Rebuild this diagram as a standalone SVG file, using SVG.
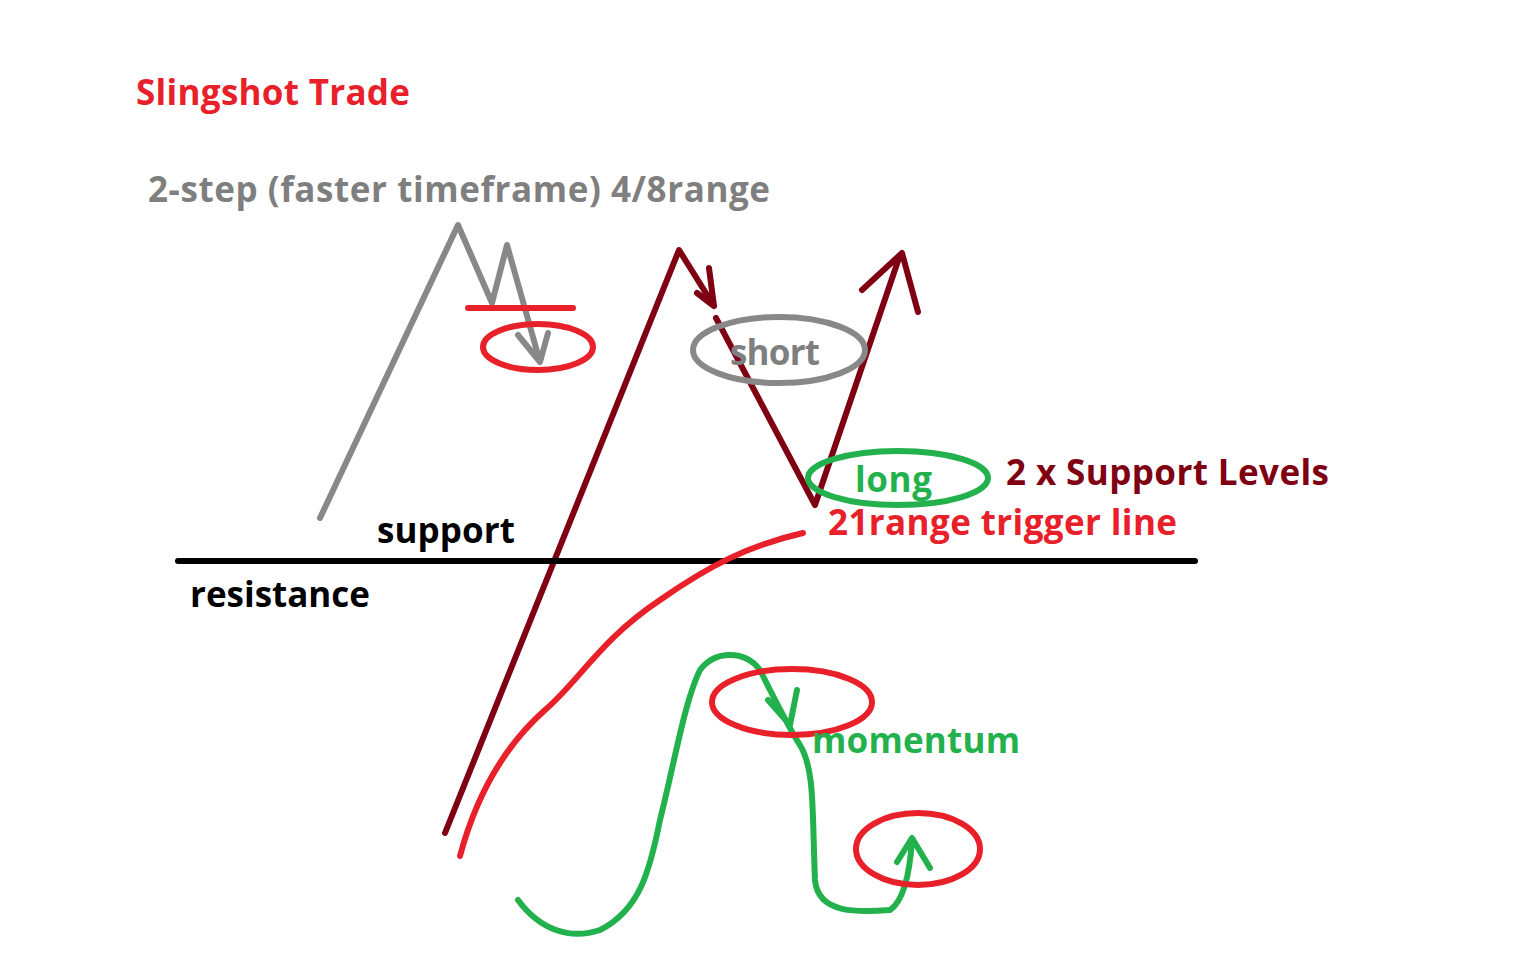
<svg xmlns="http://www.w3.org/2000/svg" width="1536" height="960" viewBox="0 0 1536 960">
<style>
text{font-family:"Open Sans",Lato,sans-serif;font-weight:bold;font-size:35px}
.s{fill:none;stroke-linecap:round;stroke-linejoin:round}
.g{stroke:#888;stroke-width:6}
.d{stroke:#7f0012;stroke-width:6}
.r{stroke:#e8202a;stroke-width:6}
.n{stroke:#22b14c;stroke-width:6}
</style>
<rect width="1536" height="960" fill="#fff"/>
<text x="136" y="105" fill="#e8202a" textLength="274">Slingshot Trade</text>
<text x="148" y="202" fill="#7f7f7f" textLength="622">2-step (faster timeframe) 4/8range</text>
<path class="s g" d="M320,518 L458,225 L492,303 L507,245 L540,362 M518,335 L540,362 L548,333"/>
<path class="s r" d="M468,308 L573,308"/>
<ellipse class="s r" cx="538" cy="347" rx="55" ry="23"/>
<path class="s d" d="M445,833 L679,250 L714,306 M697,293 L714,306 L709,268"/>
<path class="s d" d="M716,318 L815,505 L900,255 M862,290 L902,253 L918,312"/>
<ellipse class="s g" cx="779" cy="350" rx="86" ry="33"/>
<text x="730" y="365" fill="#7f7f7f" textLength="90">short</text>
<ellipse class="s n" cx="898" cy="478" rx="90" ry="27"/>
<text x="855" y="492" fill="#22b14c" textLength="77">long</text>
<text x="1006" y="485" fill="#7f0012" textLength="323">2 x Support Levels</text>
<text x="828" y="535" fill="#e8202a" textLength="349">21range trigger line</text>
<path d="M178,561 L1195,561" stroke="#000" stroke-width="6" stroke-linecap="round"/>
<text x="377" y="543" fill="#000" textLength="138">support</text>
<text x="190" y="607" fill="#000" textLength="180">resistance</text>
<path class="s r" d="M460,856 C475,800 500,750 545,710 C580,680 600,640 660,600 C710,565 750,545 803,533"/>
<path class="s n" d="M518,900 C540,930 570,940 600,930 C640,910 650,870 660,820 C675,760 685,700 700,670 C715,650 745,650 760,670 C775,700 790,730 800,745 C815,770 812,810 815,880 C818,915 860,912 890,910 C905,900 910,870 912,840 M768,700 L790,725 L797,690 M897,862 L912,838 L930,868"/>
<ellipse class="s r" cx="792" cy="702" rx="80" ry="33"/>
<text x="812" y="753" fill="#22b14c" textLength="208">momentum</text>
<ellipse class="s r" cx="918" cy="849" rx="62" ry="36"/>
</svg>
